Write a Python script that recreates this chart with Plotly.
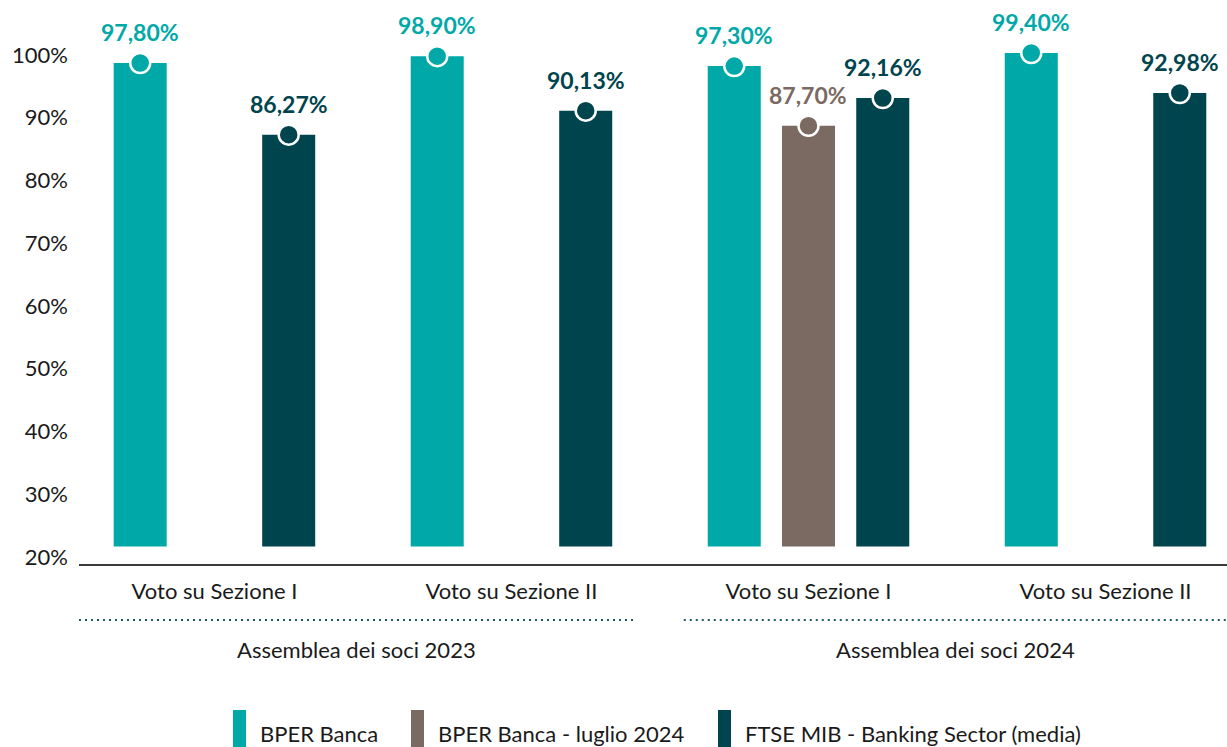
import plotly.graph_objects as go

# ---- data -------------------------------------------------------------
categories = ["Voto su Sezione I", "Voto su Sezione II", "Voto su Sezione I", "Voto su Sezione II"]
group_labels = ["Assemblea dei soci 2023", "Assemblea dei soci 2024"]
group_members = [[0, 1], [2, 3]]

series_names = ["BPER Banca", "BPER Banca - luglio 2024", "FTSE MIB - Banking Sector (media)"]
bper_banca = [97.80, 98.90, 97.30, 99.40]
bper_luglio_2024 = [None, None, 87.70, None]
ftse_mib_banking = [86.27, 90.13, 92.16, 92.98]

y_tick_values = [20, 30, 40, 50, 60, 70, 80, 90, 100]

# ---- styling ----------------------------------------------------------
series_values = [bper_banca, bper_luglio_2024, ftse_mib_banking]
colors = ["#00A9A8", "#7A6A62", "#00444E"]
slot_offsets = [-0.25, 0.0, 0.25]
bar_width = 0.1785
bar_floor = 20
x_range = [-0.456, 3.409]

FONT = "Lato"
TEXT = "#1a1a1a"
W, H = 1227, 747
M_L, M_R, M_T, M_B = 79, 0, 40, 183


def px_x(px):
    return (px - M_L) / (W - M_L - M_R)


def px_y(py):
    return (H - M_B - py) / (H - M_T - M_B)


def pct(v):
    return f"{v:.2f}".replace(".", ",") + "%"


fig = go.Figure()
annotations = []

for k, (name, vals, col) in enumerate(zip(series_names, series_values, colors)):
    xs = [i + slot_offsets[k] for i, v in enumerate(vals) if v is not None]
    ys = [v for v in vals if v is not None]
    fig.add_bar(
        x=xs, y=[v - bar_floor for v in ys], base=bar_floor, width=bar_width,
        marker=dict(color=col, line=dict(width=0)), name=name,
        showlegend=False, hoverinfo="skip",
    )
    fig.add_scatter(
        x=xs, y=ys, mode="markers", name=name, showlegend=False,
        marker=dict(size=20, color=col, line=dict(color="white", width=2.5)),
        cliponaxis=False, hoverinfo="skip",
    )
    for x, v in zip(xs, ys):
        annotations.append(dict(
            x=x, y=v, xref="x", yref="y", text=f"<b>{pct(v)}</b>", showarrow=False,
            yanchor="middle", yshift=31, font=dict(family=FONT, size=23, color=col),
        ))

# percentage scale on its own axis (no visible marks)
fig.add_scatter(
    x=[0] * len(y_tick_values), y=y_tick_values, yaxis="y2", mode="none",
    showlegend=False, hoverinfo="skip",
)

# group separators (dotted) and group labels
shapes = []
for gi, (label, members) in enumerate(zip(group_labels, group_members)):
    x0 = x_range[0] if gi == 0 else members[0] - 0.42
    x1 = members[-1] + 0.41
    shapes.append(dict(
        type="line", xref="x", yref="paper", x0=x0, x1=x1,
        y0=px_y(620), y1=px_y(620),
        line=dict(color="#1D5A63", width=2, dash="2px,4px"),
    ))
    annotations.append(dict(
        x=(x0 + x1) / 2, y=px_y(650), xref="x", yref="paper", text=label,
        xanchor="center", yanchor="middle", showarrow=False,
        font=dict(family=FONT, size=22, color=TEXT),
    ))

# legend: tall swatches with labels
legend_swatch_left = [233, 411, 718]
for name, col, sx in zip(series_names, colors, legend_swatch_left):
    shapes.append(dict(
        type="rect", xref="paper", yref="paper",
        x0=px_x(sx), x1=px_x(sx + 13), y0=px_y(747), y1=px_y(710),
        fillcolor=col, line=dict(width=0),
    ))
    annotations.append(dict(
        x=px_x(sx + 25), y=px_y(733), xref="paper", yref="paper", text=name,
        xanchor="left", yanchor="middle", showarrow=False,
        font=dict(family=FONT, size=22, color=TEXT),
    ))

fig.update_layout(
    width=W, height=H,
    margin=dict(l=M_L, r=M_R, t=M_T, b=M_B),
    paper_bgcolor="white", plot_bgcolor="white",
    barmode="overlay",
    showlegend=False,
    font=dict(family=FONT, size=22, color=TEXT),
    xaxis=dict(
        range=x_range, tickmode="array", tickvals=list(range(len(categories))),
        ticktext=categories, showgrid=False, zeroline=False, ticks="",
        showline=True, linecolor="#3a3a3a", linewidth=1.5,
        tickfont=dict(family=FONT, size=22, color=TEXT), ticklabelstandoff=7,
    ),
    yaxis=dict(
        range=[17.18, 101.5], showticklabels=False, showgrid=False,
        zeroline=False, showline=False, ticks="",
    ),
    yaxis2=dict(
        overlaying="y", anchor="x", side="left", range=[18.884, 102.39],
        tickmode="array", tickvals=y_tick_values,
        ticktext=[f"{t}%" for t in y_tick_values],
        showgrid=False, zeroline=False, showline=False, ticks="",
        tickfont=dict(family=FONT, size=22, color=TEXT), ticklabelstandoff=10,
    ),
    shapes=shapes,
    annotations=annotations,
)

fig.write_html("out.html")
